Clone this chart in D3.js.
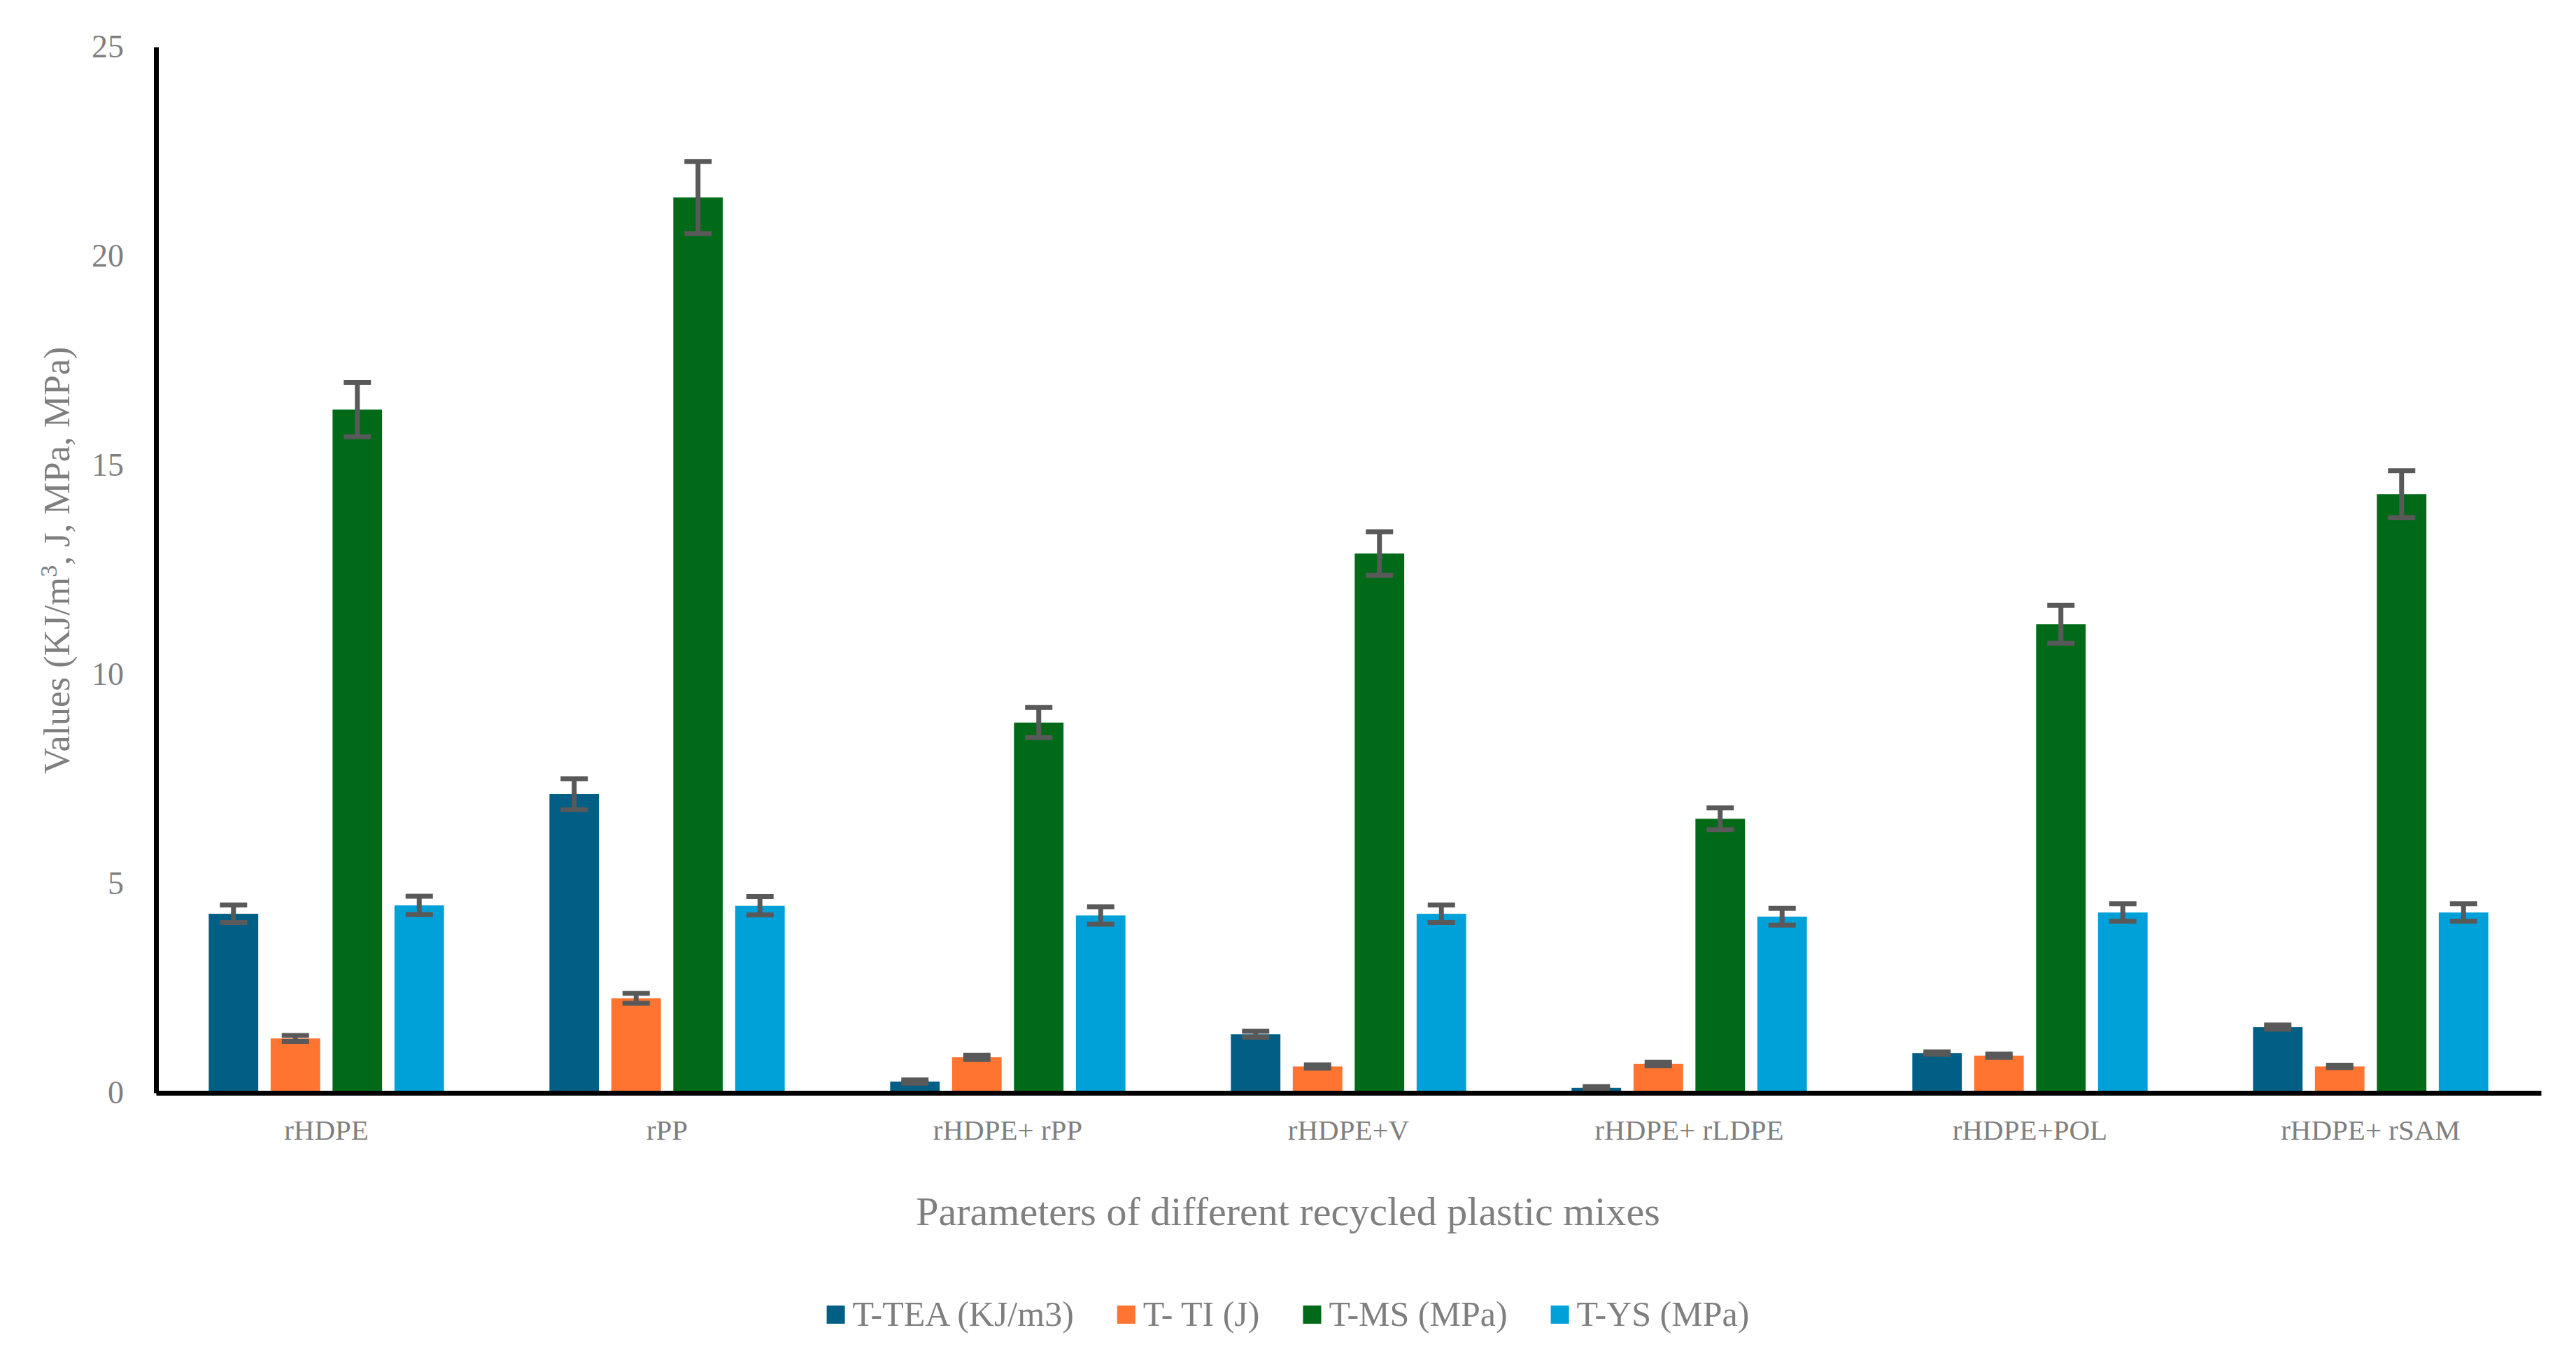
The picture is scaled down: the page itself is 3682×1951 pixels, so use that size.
<!DOCTYPE html>
<html>
<head>
<meta charset="utf-8">
<script src="https://cdn.jsdelivr.net/npm/d3@7"></script>
<style>
  body { margin: 0; background: #ffffff; }
  text { font-family: "Liberation Serif", "Times New Roman", serif; fill: #7f7f7f; }
</style>
</head>
<body>
<svg id="chart"></svg>
<script>
// values
const categories = ['rHDPE', 'rPP', 'rHDPE+ rPP', 'rHDPE+V', 'rHDPE+ rLDPE', 'rHDPE+POL', 'rHDPE+ rSAM'];
const seriesNames = ['T-TEA (KJ/m3)', 'T- TI (J)', 'T-MS (MPa)', 'T-YS (MPa)'];
const teaValues = [4.28, 7.14, 0.27, 1.40, 0.12, 0.95, 1.57];
const teaErrors = [0.21, 0.37, 0.04, 0.07, 0.03, 0.03, 0.05];
const tiValues = [1.30, 2.26, 0.85, 0.63, 0.69, 0.89, 0.63];
const tiErrors = [0.07, 0.12, 0.05, 0.04, 0.04, 0.04, 0.03];
const msValues = [16.33, 21.40, 8.85, 12.89, 6.55, 11.20, 14.31];
const msErrors = [0.65, 0.86, 0.36, 0.52, 0.26, 0.45, 0.56];
const ysValues = [4.48, 4.47, 4.24, 4.28, 4.21, 4.31, 4.31];
const ysErrors = [0.22, 0.22, 0.21, 0.21, 0.20, 0.21, 0.21];
const yTicks = [0, 5, 10, 15, 20, 25];

const colors = ['#015e85', '#ff7430', '#006a18', '#00a1d8'];
const seriesValues = [teaValues, tiValues, msValues, ysValues];
const seriesErrors = [teaErrors, tiErrors, msErrors, ysErrors];

const width = 3682;
const height = 1951;
const margin = { top: 67, right: 50, bottom: 389, left: 223 };

const svg = d3.select('#chart')
  .attr('width', width)
  .attr('height', height)
  .style('background', '#ffffff');

const x0 = d3.scaleBand()
  .domain(categories)
  .range([margin.left, width - margin.right])
  .padding(0);

const groupWidth = 354;
const x1 = d3.scaleBand()
  .domain(seriesNames)
  .range([-groupWidth / 2, groupWidth / 2])
  .paddingInner(0.2)
  .paddingOuter(0.1);

const y = d3.scaleLinear()
  .domain([0, 25])
  .range([height - margin.bottom, margin.top]);

// flatten into one record per bar
const bars = [];
categories.forEach((c, i) => {
  seriesNames.forEach((s, j) => {
    bars.push({ cat: c, series: s, value: seriesValues[j][i], err: seriesErrors[j][i], color: colors[j] });
  });
});

svg.append('g')
  .selectAll('rect')
  .data(bars)
  .enter().append('rect')
  .attr('x', d => x0(d.cat) + x0.bandwidth() / 2 + x1(d.series))
  .attr('y', d => y(d.value))
  .attr('width', x1.bandwidth())
  .attr('height', d => y(0) - y(d.value))
  .attr('fill', d => d.color);

// error bars
const errG = svg.append('g')
  .attr('stroke', '#595959')
  .attr('stroke-width', 7);

const cx = d => x0(d.cat) + x0.bandwidth() / 2 + x1(d.series) + x1.bandwidth() / 2;
const capHalf = 19.5;

errG.selectAll('.stem')
  .data(bars)
  .enter().append('line')
  .attr('x1', cx).attr('x2', cx)
  .attr('y1', d => y(d.value + d.err))
  .attr('y2', d => y(d.value - d.err));

errG.selectAll('.cap-top')
  .data(bars)
  .enter().append('line')
  .attr('x1', d => cx(d) - capHalf).attr('x2', d => cx(d) + capHalf)
  .attr('y1', d => y(d.value + d.err)).attr('y2', d => y(d.value + d.err));

errG.selectAll('.cap-bottom')
  .data(bars)
  .enter().append('line')
  .attr('x1', d => cx(d) - capHalf).attr('x2', d => cx(d) + capHalf)
  .attr('y1', d => y(d.value - d.err)).attr('y2', d => y(d.value - d.err));

// axes
const yAxis = d3.axisLeft(y).tickValues(yTicks).tickSize(0).tickPadding(46);
const yAxisG = svg.append('g')
  .attr('transform', `translate(${margin.left}, 0)`)
  .call(yAxis);
yAxisG.select('.domain').attr('stroke', '#000').attr('stroke-width', 7);
yAxisG.selectAll('text')
  .attr('font-size', 46)
  .attr('font-family', '"Liberation Serif", serif')
  .attr('fill', '#7f7f7f');

const xAxis = d3.axisBottom(x0).tickSize(0).tickPadding(38);
const xAxisG = svg.append('g')
  .attr('transform', `translate(0, ${y(0)})`)
  .call(xAxis);
xAxisG.select('.domain').attr('stroke', '#000').attr('stroke-width', 7);
xAxisG.selectAll('text')
  .attr('font-size', 41)
  .attr('font-family', '"Liberation Serif", serif')
  .attr('fill', '#7f7f7f');

// axis titles
svg.append('text')
  .attr('x', width / 2)
  .attr('y', 1751)
  .attr('text-anchor', 'middle')
  .attr('font-size', 58)
  .text('Parameters of different recycled plastic mixes');

const yTitle = svg.append('text')
  .attr('transform', `translate(99, 801) rotate(-90)`)
  .attr('text-anchor', 'middle')
  .attr('font-size', 52);
yTitle.append('tspan').text('Values (KJ/m');
yTitle.append('tspan').attr('font-size', 34).attr('dy', -18).text('3');
yTitle.append('tspan').attr('dy', 18).text(', J, MPa, MPa)');

// legend, centred under the chart
const legend = svg.append('g');
const swatch = 26;
const items = legend.selectAll('g')
  .data(seriesNames)
  .enter().append('g');
items.append('rect')
  .attr('width', swatch)
  .attr('height', swatch)
  .attr('y', 1866)
  .attr('fill', (d, i) => colors[i]);
items.append('text')
  .attr('x', swatch + 11)
  .attr('y', 1895)
  .attr('font-size', 50)
  .text(d => d);

let offset = 0;
const widths = [];
items.each(function () {
  widths.push(d3.select(this).select('text').node().getComputedTextLength() + swatch + 11);
});
const total = d3.sum(widths) + 62 * (widths.length - 1);
let start = width / 2 - total / 2;
items.attr('transform', (d, i) => {
  const t = `translate(${start + offset}, 0)`;
  offset += widths[i] + 62;
  return t;
});
</script>
</body>
</html>
